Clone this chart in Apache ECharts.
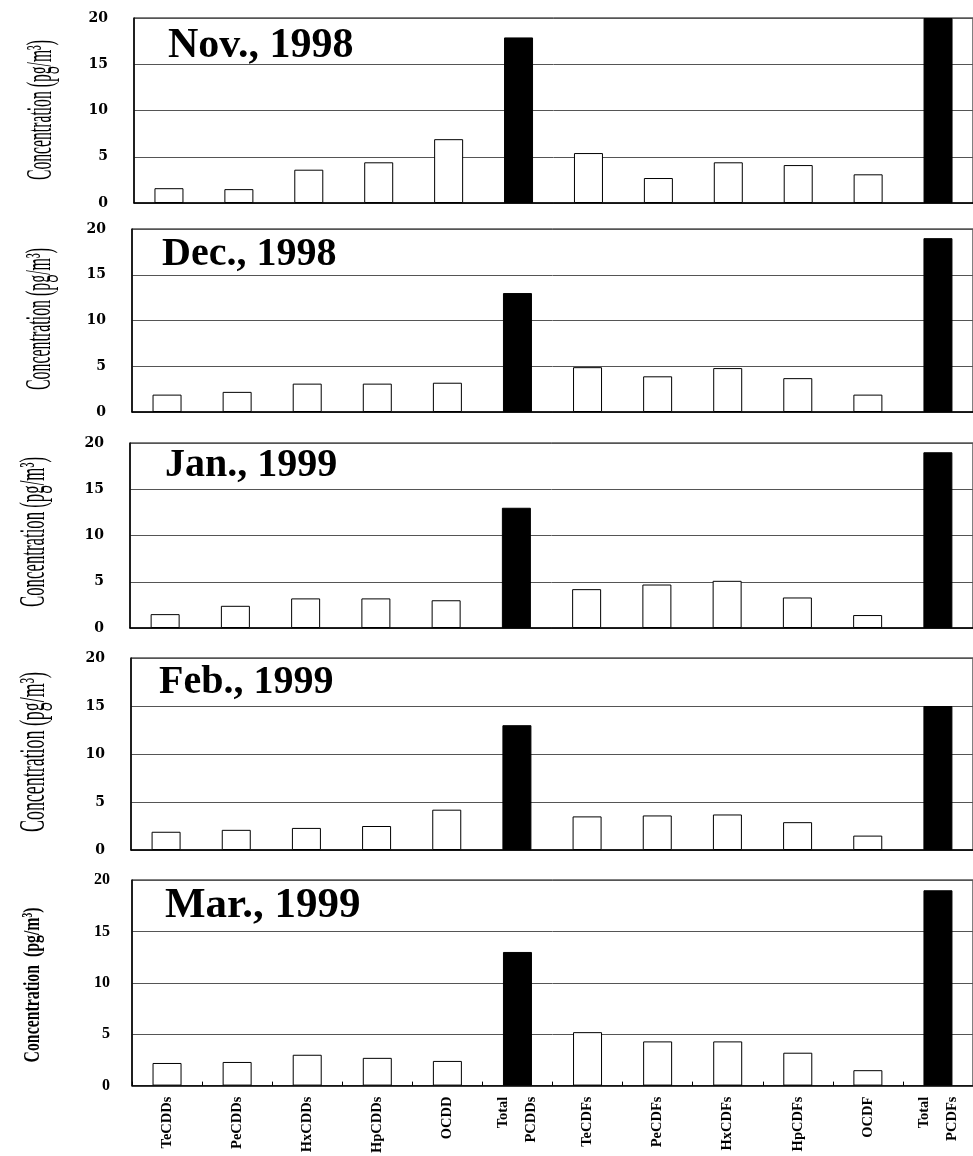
<!DOCTYPE html>
<html>
<head>
<meta charset="utf-8">
<script src="https://cdn.jsdelivr.net/npm/echarts@6/dist/echarts.min.js"></script>
<style>
  html, body { margin: 0; padding: 0; background: #fff; }
  #main { width: 973px; height: 1156px; }
</style>
</head>
<body>
<div id="main"></div>
<script>
// categories and monthly concentrations (pg/m3)
const categories = ["TeCDDs", "PeCDDs", "HxCDDs", "HpCDDs", "OCDD", "Total\nPCDDs",
  "TeCDFs", "PeCDFs", "HxCDFs", "HpCDFs", "OCDF", "Total\nPCDFs"];
const months = ["Nov., 1998", "Dec., 1998", "Jan., 1999", "Feb., 1999", "Mar., 1999"];
const nov1998 = [1.6, 1.5, 3.6, 4.4, 6.9, 17.9, 5.4, 2.7, 4.4, 4.1, 3.1, 20];
const dec1998 = [1.9, 2.2, 3.1, 3.1, 3.2, 13.0, 4.9, 3.9, 4.8, 3.7, 1.9, 19.0];
const jan1999 = [1.5, 2.4, 3.2, 3.2, 3.0, 13.0, 4.2, 4.7, 5.1, 3.3, 1.4, 19.0];
const feb1999 = [1.9, 2.1, 2.3, 2.5, 4.2, 13.0, 3.5, 3.6, 3.7, 2.9, 1.5, 15.0];
const mar1999 = [2.2, 2.3, 3.0, 2.7, 2.4, 13.0, 5.2, 4.3, 4.3, 3.2, 1.5, 19.0];
const yMin = 0, yMax = 20, yStep = 5;

const monthValues = [nov1998, dec1998, jan1999, feb1999, mar1999];

// panel layout (pixels)
const panels = [
  { left: 134, top: 18, width: 841, height: 185, tLeft: 168, tTop: 25, tSize: 42, nx: 42, ny: 110, nlen: 140 },
  { left: 132, top: 229, width: 842, height: 183, tLeft: 162, tTop: 235, tSize: 40, nx: 41, ny: 319, nlen: 142 },
  { left: 130, top: 443, width: 850, height: 185, tLeft: 165, tTop: 446, tSize: 40, nx: 35, ny: 532, nlen: 150 },
  { left: 131, top: 658, width: 850, height: 192, tLeft: 159, tTop: 663, tSize: 40, nx: 35, ny: 752, nlen: 160 },
  { left: 132, top: 880, width: 851, height: 209, tLeft: 165, tTop: 884, tSize: 43, nx: 33, ny: 985, nlen: 155 }
];

const nameText = "Concentration (pg/m\u00b3)";
const nameText5 = "Concentration  (pg/m\u00b3)";
const measure = document.createElement("canvas").getContext("2d");
function textWidth(font, txt) {
  measure.font = font;
  return measure.measureText(txt).width;
}

let dom = document.getElementById("main");
let myChart = echarts.init(dom, null, { renderer: "canvas" });

let grids = [], xAxes = [], yAxes = [], series = [], titles = [], graphics = [];

panels.forEach(function (p, i) {
  const last = i === panels.length - 1;
  grids.push({
    left: p.left, top: p.top, width: p.width, height: p.height,
    show: true, borderColor: "#000", borderWidth: 1, backgroundColor: "transparent"
  });
  xAxes.push({
    type: "category",
    gridIndex: i,
    data: categories,
    axisLine: { lineStyle: { color: "#000", width: 1.5 } },
    axisTick: { show: last, inside: true, length: 4, lineStyle: { color: "#000" } },
    axisLabel: {
      show: last,
      rotate: 90,
      margin: 11,
      interval: 0,
      fontFamily: "Liberation Serif",
      fontWeight: "bold",
      fontSize: 14.5,
      lineHeight: 28,
      color: "#000"
    }
  });
  yAxes.push({
    type: "value",
    gridIndex: i,
    min: yMin, max: yMax, interval: yStep,
    axisLine: { show: true, lineStyle: { color: "#000", width: 1.5 } },
    axisTick: { show: false },
    splitLine: { lineStyle: { color: "#555", width: 1 } },
    axisLabel: {
      margin: last ? 22 : 26,
      fontFamily: last ? "Liberation Serif" : "DejaVu Serif",
      fontWeight: "bold",
      fontSize: last ? 16 : 14,
      color: "#000"
    }
  });
  series.push({
    type: "bar",
    xAxisIndex: i,
    yAxisIndex: i,
    barWidth: 29,
    data: monthValues[i].map(function (v, k) {
      const total = categories[k].indexOf("Total") === 0;
      return {
        value: v,
        itemStyle: { color: total ? "#000" : "#fff", borderColor: "#000", borderWidth: 1 }
      };
    })
  });
  titles.push({
    text: months[i],
    left: p.tLeft,
    top: p.tTop,
    padding: 0,
    textStyle: { fontFamily: "Liberation Serif", fontWeight: "bold", fontSize: p.tSize, color: "#000" }
  });
  // condensed y-axis title
  const font = last ? "bold 24px 'Liberation Serif'" : "36px 'Liberation Serif'";
  const txt = last ? nameText5 : nameText;
  const w = textWidth(font, txt);
  graphics.push({
    type: "text",
    x: p.nx,
    y: p.ny,
    rotation: Math.PI / 2,
    scaleX: p.nlen / w,
    scaleY: 1,
    style: {
      text: txt,
      font: font,
      fill: "#000",
      align: "center",
      verticalAlign: "middle"
    }
  });
});

let option = {
  backgroundColor: "#fff",
  animation: false,
  title: titles,
  grid: grids,
  xAxis: xAxes,
  yAxis: yAxes,
  series: series,
  graphic: graphics
};

if (option && typeof option === "object") {
  myChart.setOption(option);
}

window.addEventListener("resize", myChart.resize);
</script>
</body>
</html>
